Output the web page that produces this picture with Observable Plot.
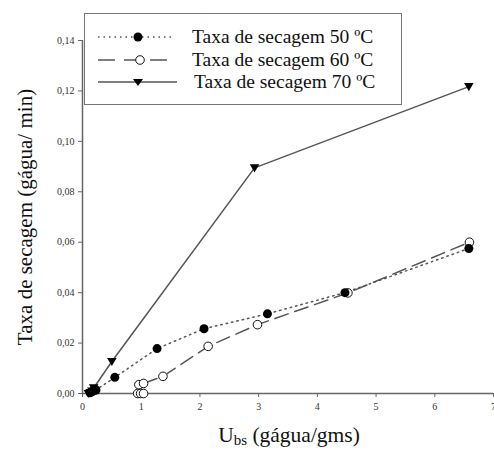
<!DOCTYPE html>
<html><head><meta charset="utf-8">
<script src="https://cdn.jsdelivr.net/npm/d3@7"></script>
<script src="https://cdn.jsdelivr.net/npm/@observablehq/plot@0.6"></script>
<style>
body{margin:0;background:#fff;}
#wrap{position:relative;width:494px;height:455px;font-family:"Times New Roman","Liberation Serif",Tinos,"Nimbus Roman","DejaVu Serif",serif;overflow:hidden;}
#legend{position:absolute;left:84px;top:13px;width:318px;height:92px;border:1px solid #777;box-sizing:border-box;background:#fff;}
.row{position:absolute;left:0;height:20px;display:flex;align-items:center;}
.row svg{display:block;}
.row span{font-size:19.5px;color:#111;margin-left:17px;white-space:nowrap;}
#ylab{position:absolute;left:25px;top:217px;transform:translate(-50%,-50%) rotate(-90deg);font-size:21px;white-space:nowrap;color:#111;}
#xlab{position:absolute;left:289px;top:448px;transform:translate(-50%,-100%);font-size:21.5px;white-space:nowrap;color:#111;line-height:1;}
#xlab sub{font-size:15px;vertical-align:-3px;}
</style></head><body><div id="wrap"></div>
<script>
// Taxa de secagem 50 ºC
const u50 = [0.13, 0.17, 0.20, 0.23, 0.55, 1.27, 2.07, 3.15, 4.47, 6.58];
const t50 = [0.0003, 0.0008, 0.0012, 0.0014, 0.0064, 0.0178, 0.0257, 0.0316, 0.0400, 0.0575];
// Taxa de secagem 60 ºC
const u60 = [0.94, 0.99, 1.04, 0.96, 1.04, 1.37, 2.14, 2.98, 4.52, 6.59];
const t60 = [0.0000, 0.0000, 0.0000, 0.0035, 0.0040, 0.0068, 0.0187, 0.0273, 0.0399, 0.0600];
// Taxa de secagem 70 ºC
const u70 = [0.10, 0.13, 0.16, 0.19, 0.50, 2.93, 6.58];
const t70 = [0.0000, 0.0004, 0.0010, 0.0022, 0.0127, 0.0895, 0.1217];

const seriesNames = ["Taxa de secagem 50 ºC", "Taxa de secagem 60 ºC", "Taxa de secagem 70 ºC"];
const xTicks = [0, 1, 2, 3, 4, 5, 6, 7];
const yTicks = [0, 0.02, 0.04, 0.06, 0.08, 0.10, 0.12, 0.14];
const yLabel = "Taxa de secagem (gágua/ min)";
const xLabelMain = "U", xLabelSub = "bs", xLabelRest = " (gágua/gms)";

const d50 = u50.map((x, i) => ({x, y: t50[i]}));
const d60 = u60.map((x, i) => ({x, y: t60[i]}));
const d70 = u70.map((x, i) => ({x, y: t70[i]}));

const triDown = {
  draw(ctx, size) {
    const h = Math.sqrt(size) * 0.6;
    ctx.moveTo(-h, -h * 0.75);
    ctx.lineTo(h, -h * 0.75);
    ctx.lineTo(0, h * 0.95);
    ctx.closePath();
  }
};

const fmt = d => d3.format(".2f")(d).replace(".", ",");
const lineColor = "#555";
const serif = "'Times New Roman', 'Liberation Serif', Tinos, 'Nimbus Roman', 'DejaVu Serif', serif";

const chart = Plot.plot({
  width: 494, height: 455,
  marginLeft: 82, marginRight: 1, marginTop: 40, marginBottom: 62,
  style: {fontFamily: serif, fontSize: "10px", color: "#333", background: "white", overflow: "visible"},
  x: {domain: [0, 7]},
  y: {domain: [0, 0.14]},
  marks: [
    Plot.axisX({ticks: xTicks, tickSize: 4, tickPadding: 5, label: null, tickFormat: d => String(d), stroke: "#666", fontFamily: serif}),
    Plot.axisY({ticks: yTicks, tickSize: 4, tickPadding: 4, label: null, tickFormat: fmt, stroke: "#666", fontFamily: serif}),
    Plot.ruleY([0], {stroke: "#666", strokeWidth: 1.5}),
    Plot.ruleX([0], {stroke: "#666", strokeWidth: 1.5}),
    Plot.line(d50, {x: "x", y: "y", stroke: lineColor, strokeWidth: 1.5, strokeDasharray: "1.5,4"}),
    Plot.line(d60, {x: "x", y: "y", stroke: lineColor, strokeWidth: 1.5, strokeDasharray: "14,7"}),
    Plot.line(d70, {x: "x", y: "y", stroke: lineColor, strokeWidth: 1.5}),
    Plot.dot(d60, {x: "x", y: "y", r: 4.3, fill: "white", stroke: "#111", strokeWidth: 1}),
    Plot.dot(d50, {x: "x", y: "y", r: 4.5, fill: "#000", stroke: "none"}),
    Plot.dot(d70, {x: "x", y: "y", r: 4.5, symbol: triDown, fill: "#000", stroke: "none"})
  ]
});

const wrap = document.getElementById("wrap");
wrap.appendChild(chart);

// legend
const legend = document.createElement("div");
legend.id = "legend";
const swatches = [
  `<svg width="90" height="20"><line x1="13" y1="10" x2="90" y2="10" stroke="${lineColor}" stroke-width="1.5" stroke-dasharray="1.5,4"/><circle cx="53" cy="10" r="4.5" fill="#000"/></svg>`,
  `<svg width="90" height="20"><line x1="13" y1="10" x2="90" y2="10" stroke="${lineColor}" stroke-width="1.5" stroke-dasharray="17,9"/><circle cx="55" cy="10" r="4.3" fill="#fff" stroke="#111"/></svg>`,
  `<svg width="92" height="20"><line x1="13" y1="10" x2="92" y2="10" stroke="${lineColor}" stroke-width="1.5"/><path d="M48,7 L58,7 L53,14 Z" fill="#000"/></svg>`
];
const tops = [13, 36, 58];
seriesNames.forEach((name, i) => {
  const row = document.createElement("div");
  row.className = "row";
  row.style.top = tops[i] + "px";
  row.innerHTML = swatches[i] + `<span>${name}</span>`;
  legend.appendChild(row);
});
wrap.appendChild(legend);

const ylab = document.createElement("div");
ylab.id = "ylab";
ylab.textContent = yLabel;
wrap.appendChild(ylab);

const xlab = document.createElement("div");
xlab.id = "xlab";
xlab.innerHTML = `${xLabelMain}<sub>${xLabelSub}</sub>${xLabelRest}`;
wrap.appendChild(xlab);
</script>
</body></html>
